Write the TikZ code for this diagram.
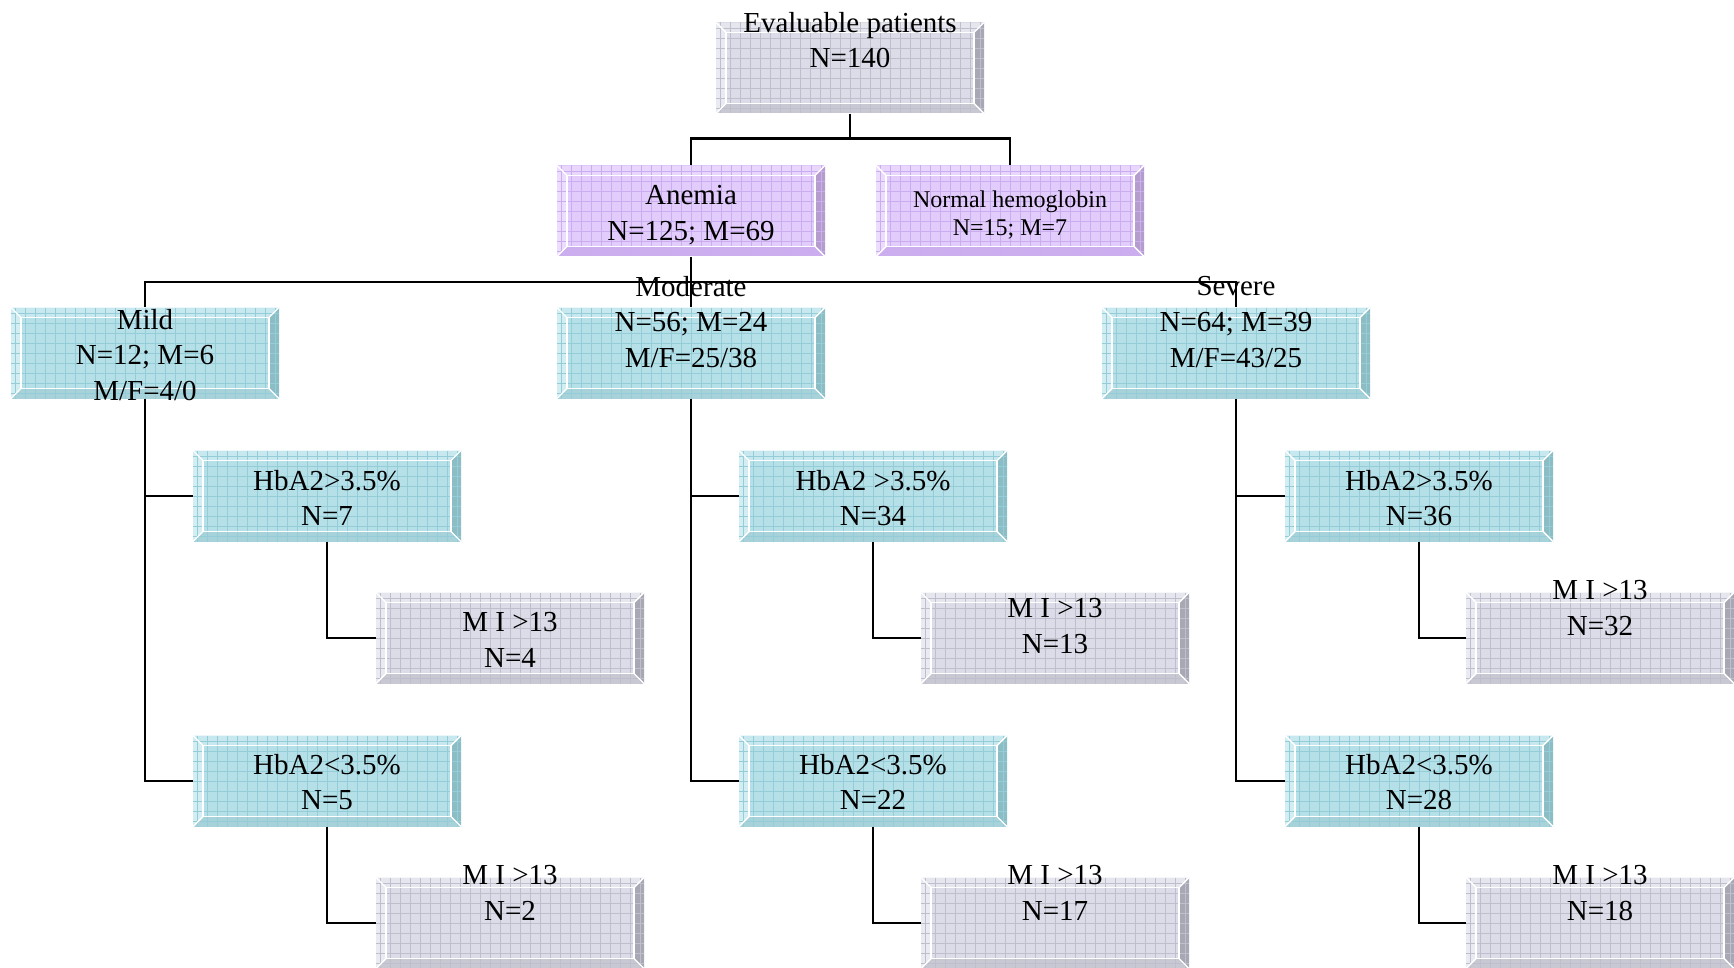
\documentclass[tikz,border=0pt]{standalone}
\usepackage{fontspec}
\setmainfont{Liberation Serif}

% colours of the framed boxes: in=face, tp/lf/rt/bt=bevels, gr=grid
\definecolor{gryin}{HTML}{DCDCE8}\definecolor{grytp}{HTML}{E6E6EE}
\definecolor{grylf}{HTML}{EAEAF2}\definecolor{gryrt}{HTML}{A8A8B4}
\definecolor{grybt}{HTML}{C8C8D2}\definecolor{grygr}{HTML}{BEBECC}
\definecolor{vioin}{HTML}{E2CCFC}\definecolor{viotp}{HTML}{E8D6FC}
\definecolor{violf}{HTML}{ECDDFF}\definecolor{viort}{HTML}{B49CCC}
\definecolor{viobt}{HTML}{CCAEEE}\definecolor{viogr}{HTML}{CAACF0}
\definecolor{cynin}{HTML}{B6E0E8}\definecolor{cyntp}{HTML}{C6E8EE}
\definecolor{cynlf}{HTML}{D2EEF2}\definecolor{cynrt}{HTML}{8CBCC4}
\definecolor{cynbt}{HTML}{A8D2DA}\definecolor{cyngr}{HTML}{94CCD8}

\newcommand{\bevelfill}[1]{%
  \coordinate (bl) at (path picture bounding box.south west);
  \coordinate (tr) at (path picture bounding box.north east);
  \coordinate (tl) at (path picture bounding box.north west);
  \coordinate (br) at (path picture bounding box.south east);
  \fill[#1bt] (bl) rectangle (tr);
  \fill[#1tp] (tl) -- (tr) -- ([shift={(-5pt,-5pt)}]tr) -- ([shift={(5pt,-5pt)}]tl) -- cycle;
  \fill[#1lf] (tl) -- (bl) -- ([shift={(5pt,5pt)}]bl) -- ([shift={(5pt,-5pt)}]tl) -- cycle;
  \fill[#1rt] (tr) -- (br) -- ([shift={(-5pt,5pt)}]br) -- ([shift={(-5pt,-5pt)}]tr) -- cycle;
  \fill[#1in] ([shift={(5pt,5pt)}]bl) rectangle ([shift={(-5pt,-5pt)}]tr);
  \draw[#1gr, line width=0.4pt, step=5pt] (bl) grid (tr);
  \draw[white, line width=0.9pt] ([shift={(5pt,5pt)}]bl) rectangle ([shift={(-5pt,-5pt)}]tr);
  \draw[white, line width=0.7pt] (tl) -- ([shift={(5pt,-5pt)}]tl) (bl) -- ([shift={(5pt,5pt)}]bl)
    (tr) -- ([shift={(-5pt,-5pt)}]tr) (br) -- ([shift={(-5pt,5pt)}]br);
}

\begin{document}
\begin{tikzpicture}[x=0.5pt,y=-0.5pt,
  box/.style={rectangle, minimum width=134pt, minimum height=45.5pt, inner sep=0pt,
    path picture={\bevelfill{#1}}},
  txt/.style={align=center, inner sep=0pt, font=\fontsize{14.5}{17.8}\selectfont},
  link/.style={line width=1.4pt}]
  \useasboundingbox (0,0) rectangle (1734,968);

  % boxes
  \node[box=gry] (top) at (850,68) {};
  \node[box=vio] (anem) at (691,211) {};
  \node[box=vio] (norm) at (1010,211) {};

  \node[box=cyn] (mild) at (145,353) {};
  \node[box=cyn] (mildhi) at (327,496) {};
  \node[box=gry] (mildhimi) at (510,638) {};
  \node[box=cyn] (mildlo) at (327,781) {};
  \node[box=gry] (mildlomi) at (510,923) {};

  \node[box=cyn] (mod) at (691,353) {};
  \node[box=cyn] (modhi) at (873,496) {};
  \node[box=gry] (modhimi) at (1055,638) {};
  \node[box=cyn] (modlo) at (873,781) {};
  \node[box=gry] (modlomi) at (1055,923) {};

  \node[box=cyn] (sev) at (1236,353) {};
  \node[box=cyn] (sevhi) at (1419,496) {};
  \node[box=gry] (sevhimi) at (1600,638) {};
  \node[box=cyn] (sevlo) at (1419,781) {};
  \node[box=gry] (sevlomi) at (1600,923) {};

  % connectors
  \draw[link] (top.south) -- ++(0,25) coordinate (j0);
  \draw[link] (anem.north) |- (j0) -| (norm.north);
  \draw[link] (anem.south) -- (mod.north);
  \coordinate (j1) at (691,282);
  \draw[link] (mild.north) |- (j1) -| (sev.north);

  \draw[link] (mild.south) |- (mildhi.west);
  \draw[link] (mild.south) |- (mildlo.west);
  \draw[link] (mildhi.south) |- (mildhimi.west);
  \draw[link] (mildlo.south) |- (mildlomi.west);

  \draw[link] (mod.south) |- (modhi.west);
  \draw[link] (mod.south) |- (modlo.west);
  \draw[link] (modhi.south) |- (modhimi.west);
  \draw[link] (modlo.south) |- (modlomi.west);

  \draw[link] (sev.south) |- (sevhi.west);
  \draw[link] (sev.south) |- (sevlo.west);
  \draw[link] (sevhi.south) |- (sevhimi.west);
  \draw[link] (sevlo.south) |- (sevlomi.west);

  % texts
  \node[txt] (topt) at (850,40) {Evaluable patients\\N=140};
  \node[txt] (anemt) at (691,215) {Anemia\\N=125; M=69};
  \node[txt, font=\fontsize{12}{13.8}\selectfont] (normt) at (1010,215) {Normal hemoglobin\\N=15; M=7};

  \node[txt] (mildt) at (145,355) {Mild\\N=12; M=6\\M/F=4/0};
  \node[txt] (mildhit) at (327,498) {HbA2>3.5\%\\N=7};
  \node[txt] (mildhimit) at (510,640) {M I >13\\N=4};
  \node[txt] (mildlot) at (327,782) {HbA2<3.5\%\\N=5};
  \node[txt] (mildlomit) at (510,893) {M I >13\\N=2};

  \node[txt] (modt) at (691,322) {Moderate\\N=56; M=24\\M/F=25/38};
  \node[txt] (modhit) at (873,498) {HbA2 >3.5\%\\N=34};
  \node[txt] (modhimit) at (1055,626) {M I >13\\N=13};
  \node[txt] (modlot) at (873,782) {HbA2<3.5\%\\N=22};
  \node[txt] (modlomit) at (1055,893) {M I >13\\N=17};

  \node[txt] (sevt) at (1236,322) {Severe\\N=64; M=39\\M/F=43/25};
  \node[txt] (sevhit) at (1419,498) {HbA2>3.5\%\\N=36};
  \node[txt] (sevhimit) at (1600,608) {M I >13\\N=32};
  \node[txt] (sevlot) at (1419,782) {HbA2<3.5\%\\N=28};
  \node[txt] (sevlomit) at (1600,893) {M I >13\\N=18};
\end{tikzpicture}
\end{document}
